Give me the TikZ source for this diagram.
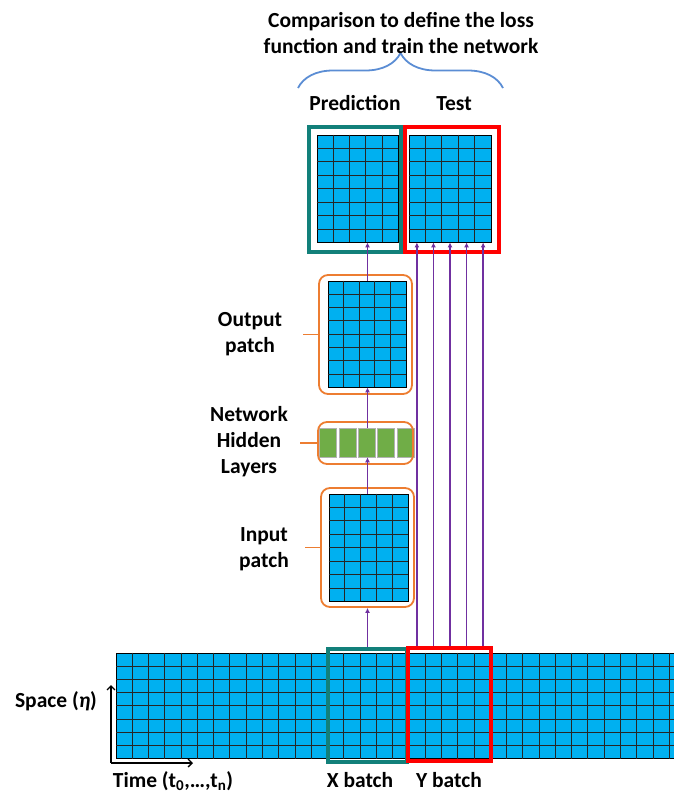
\documentclass[tikz,border=0pt]{standalone}
\usepackage{fontspec}
\setmainfont{Carlito}
\usepackage{tikz}
\usetikzlibrary{arrows.meta,positioning,calc,decorations.pathreplacing}

\definecolor{cellblue}{RGB}{0,176,240}
\definecolor{layergreen}{RGB}{112,173,71}
\definecolor{boxorange}{RGB}{237,125,49}
\definecolor{flowpurple}{RGB}{112,48,160}
\definecolor{xteal}{RGB}{18,128,122}
\definecolor{yred}{RGB}{255,0,0}
\definecolor{braceblue}{RGB}{91,141,212}

\begin{document}
\begin{tikzpicture}[x=1pt,y=-1pt,
    font=\bfseries\fontsize{21.5}{26}\selectfont,
    patch/.style={draw=black,fill=cellblue,inner sep=0pt,line width=0.8pt},
    cellline/.style={draw=black!85,line width=0.8pt},
    layer/.style={draw=gray!60,fill=layergreen,inner sep=0pt,line width=0.6pt,
      minimum width=17pt,minimum height=29pt},
    roundbox/.style={draw=boxorange,rounded corners=9pt,line width=1.8pt,inner sep=0pt},
    tick/.style={draw=boxorange,line width=1.8pt},
    flow/.style={-{Latex[length=5pt,width=5pt]},draw=flowpurple,line width=1.3pt},
    axis/.style={-{Straight Barb[length=4pt,width=8pt]},draw=black,line width=1.3pt},
    xbox/.style={draw=xteal,line width=4pt,inner sep=0pt},
    ybox/.style={draw=yred,line width=4pt,inner sep=0pt},
    label/.style={align=center,inner sep=0pt}]
  \useasboundingbox (0,0) rectangle (673,795);

  % patches
  \node[patch,minimum width=81pt,minimum height=107pt] (pred) at (357.5,188.5) {};
  \node[patch,minimum width=82pt,minimum height=107pt] (test) at (450,188.5) {};
  \node[patch,minimum width=78pt,minimum height=106pt] (outp) at (367,334) {};
  \node[patch,minimum width=79pt,minimum height=107pt] (inp) at (368.5,547.5) {};
  \node[patch,minimum width=569.5pt,minimum height=105.4pt,anchor=north west] (strip) at (116,652.7) {};
  \foreach \p in {pred,test,outp,inp}{
    \foreach \f in {0.2,0.4,0.6,0.8}
      \draw[cellline] ($(\p.north west)!\f!(\p.north east)$) -- ($(\p.south west)!\f!(\p.south east)$);
    \foreach \f in {0.125,0.25,0.375,0.5,0.625,0.75,0.875}
      \draw[cellline] ($(\p.north west)!\f!(\p.south west)$) -- ($(\p.north east)!\f!(\p.south east)$);
  }
  \foreach \i in {1,...,34}
    \draw[cellline] ($(strip.north west)+(\i*16.27,0)$) -- ($(strip.south west)+(\i*16.27,0)$);
  \foreach \f in {0.125,0.25,0.375,0.5,0.625,0.75,0.875}
    \draw[cellline] ($(strip.north west)!\f!(strip.south west)$) -- ($(strip.north east)!\f!(strip.south east)$);

  % hidden layers
  \node[layer] (h1) at (328,442.5) {};
  \node[layer] (h2) [right=1.75pt of h1] {};
  \node[layer] (h3) [right=1.75pt of h2] {};
  \node[layer] (h4) [right=1.75pt of h3] {};
  \node[layer] (h5) [right=1.75pt of h4] {};

  % orange frames
  \node[roundbox,minimum width=93pt,minimum height=119pt] (outpbox) at (365.5,334.5) {};
  \node[roundbox,minimum width=95pt,minimum height=42pt] (hidbox) at (365.5,443) {};
  \node[roundbox,minimum width=93pt,minimum height=119pt] (inpbox) at (367.5,547.5) {};
  \draw[tick] (outpbox.west) -- ++(-15,0);
  \draw[tick] (hidbox.west) -- ++(-17,0);
  \draw[tick] (inpbox.west) -- ++(-15,0);

  % batches
  \node[xbox,minimum width=79pt,minimum height=113pt] (xb) at (367.5,705.5) {};
  \node[ybox,minimum width=82.5pt,minimum height=112.5pt] (yb) at (449.25,704.25) {};
  \node[xbox,minimum width=92pt,minimum height=125pt] (predbox) at (355,189.5) {};
  \node[ybox,minimum width=94pt,minimum height=125pt] (testbox) at (452,189.5) {};

  % flow of data
  \draw[flow] (xb.north) -- (xb.north |- inpbox.south);
  \draw[flow] (inp.north -| xb.north) -- (xb.north |- h3.south);
  \draw[flow] (h3.north -| xb.north) -- (xb.north |- outp.south);
  \draw[flow] (outp.north -| xb.north) -- (xb.north |- pred.south);
  \foreach \f [count=\i] in {0.1,0.3,0.5,0.7,0.9}{
    \coordinate (tcol\i) at ($(test.south west)!\f!(test.south east)$);
    \draw[flow] (tcol\i |- yb.north) -- (tcol\i);
  }

  % axes
  \coordinate (origin) at (111,763);
  \coordinate (spacetip) at (111,685);
  \coordinate (timetip) at (193,763);
  \draw[axis] (origin) -- (spacetip);
  \draw[axis] (origin) -- (timetip);

  % brace
  \coordinate (braceL) at (298,88);
  \coordinate (braceR) at (503,88);
  \draw[braceblue,line width=1.8pt,decorate,decoration={brace,amplitude=35pt}] (braceL) -- (braceR);

  % labels
  \node[label] (title) at (401,33) {Comparison to define the loss\\function and train the network};
  \node[label,anchor=base] (predlbl) at (355,110) {Prediction};
  \node[label,anchor=base] (testlbl) at (454,110) {Test};
  \node[label] (outplbl) at (250,334) {Output\\patch};
  \node[label] (hidlbl) at (249,442) {Network\\Hidden\\Layers};
  \node[label] (inplbl) at (264,549) {Input\\patch};
  \node[label,anchor=base] (spacelbl) at (56,707) {Space (\textit{η})};
  \node[label,anchor=base] (timelbl) at (173,787) {Time (t\textsubscript{0},…,t\textsubscript{n})};
  \node[label,anchor=base] (xlbl) at (360,787) {X batch};
  \node[label,anchor=base] (ylbl) at (449,787) {Y batch};
\end{tikzpicture}
\end{document}
